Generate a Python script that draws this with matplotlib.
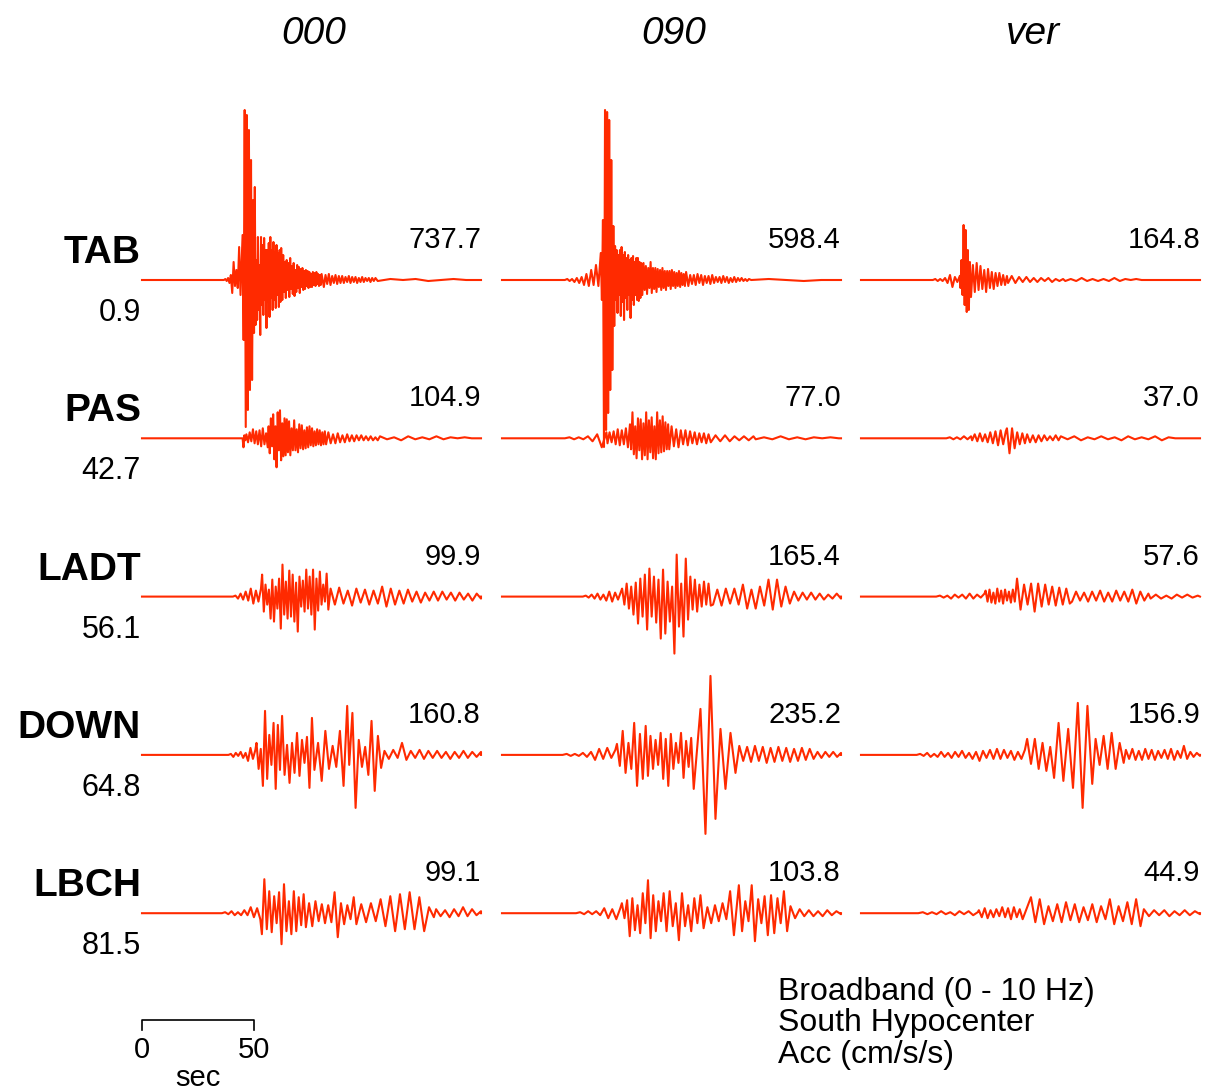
import matplotlib.pyplot as plt
import numpy as np

plt.rcParams['font.family'] = ['Liberation Sans', 'DejaVu Sans']

stations = ['TAB', 'PAS', 'LADT', 'DOWN', 'LBCH']
distances = ['0.9', '42.7', '56.1', '64.8', '81.5']
components = ['000', '090', 'ver']
peak_labels = [['737.7', '598.4', '164.8'],
               ['104.9', '77.0', '37.0'],
               ['99.9', '165.4', '57.6'],
               ['160.8', '235.2', '156.9'],
               ['99.1', '103.8', '44.9']]
notes = ['Broadband (0 - 10 Hz)', 'South Hypocenter', 'Acc (cm/s/s)']

# traces: (t_start, t_end, alternating extremes), time in s,
# amplitude in drawn units (positive up)
tab_000 = [(36.5, 44.5, [0, 1, -1, 2, -3, 5, -13, 18, -6, 10, -8, 33, -15, 25]),
           (44.8, 49.5, [45, -60, 170, -147, 165, -130, 150, -110, 120, -100, 80]),
           (49.9, 62, [-53, 93, -45, 20, -40, 43, -30, 15, -55, 43, -25, 35, -35, 42, -20, 30, -48, 30,
                       -22, 37, -37, 43, -18, 30, -30, 38, -20, 28, -28, 35, -15, 27, -27, 30, -22, 32]),
           (62.5, 80, [-20, 25, -12, 18, -18, 20, -10, 17, -17, 22, -9, 14, -14, 17, -16, 10, -12, 15, -8, 13,
                       -13, 11, -7, 12, -10, 9, -9, 10, -6, 9, -8, 8, -7, 6, -7, 8, -5, 7, -6, 8, -4, 6,
                       -6, 5, -5, 6]),
           (81, 104, [-7, 5, -4, 6, -5, 4, -3, 5, -4, 4, -3, 4, -3, 3, -2, 4, -3, 3, -2, 3, -3, 2, -2, 3,
                      -2, 2, -1, 2, -2, 2, -1, 2]),
           (105, 150, [-1, 1, 0, 1, -1, 0, 1, 0, 0])]
tab_090 = [(28, 44, [0, 1, -1, 1, -2, 2, -3, 3, -5, 6, -6, 10, -5, 15, -6, 27]),
           (44.5, 49.6, [-20, 60, -167, 170, -150, 168, -133, 160, -110, 120, -90, 54]),
           (50, 62, [-46, 34, -20, 30, -33, 25, -15, 30, -36, 33, -22, 25, -40, 28, -18, 22, -30, 25,
                     -15, 20, -38, 22, -20, 24, -25, 18, -15, 22, -20, 22, -21, 18, -18, 17]),
           (62.5, 82, [-15, 17, -10, 14, -14, 12, -8, 18, -13, 12, -9, 12, -12, 11, -7, 10, -10, 12, -8, 9,
                       -10, 9, -6, 9, -9, 10, -6, 8, -8, 7, -6, 9, -7, 7, -5, 6, -6, 8]),
           (83, 110, [-6, 5, -4, 5, -5, 6, -3, 5, -5, 4, -3, 4, -4, 5, -3, 3, -2, 3, -3, 4, -2, 3, -3, 2,
                      -2, 3, -2, 2, -1, 2, -1, 1, -1, 1]),
           (111, 150, [0, 1, 0, -1, 0, 0])]
tab_ver = [(32, 44, [0, 1, -1, 1, -1, 2, -3, 5, -7, 3, -2, 4]),
           (44.3, 48.5, [-8, 20, -15, 55, -25, 50, -32, 30, -30, 18]),
           (49, 65, [-17, 15, -12, 17, -10, 14, -9, 10, -12, 11, -8, 8, -9, 7, -6, 7, -5, 5, -5, 4]),
           (65.5, 90, [-3, 4, -3, 3, -2, 3, -2, 2, -2, 2, -1, 2, -2, 1, -1, 1]),
           (91, 125, [-1, 1, -1, 2, -1, 1, -1, 1, -1, 2, -1, 1, 0, 1, 0])]

pas_000 = [(44.8, 46, [0, -9, 3, -2]),
           (46.5, 56, [4, -4, 6, -3, 9, -5, 7, -6, 8, -8, 10, -6, 5, -9]),
           (56.4, 65, [12, -15, 20, -8, 24, -21, 12, -29, 26, -12, 28, -22, 15, -18, 20, -17, 19, -14]),
           (65.5, 82, [17, -17, 10, -12, 18, -12, 9, -14, 14, -10, 13, -11, 8, -10, 11, -9, 12, -7, 10, -8,
                       7, -7, 9, -6, 8, -7, 6, -6, 7, -6]),
           (83, 105, [6, -5, 4, -5, 5, -4, 3, -4, 4, -3, 3, -3, 3, -2, 3, -2, 2, -2, 2, -2, 1, -2]),
           (106, 150, [2, -1, 1, -2, 2, -1, 1, -1, 2, -1, 1, 0, 1, 0, 0])]
pas_090 = [(28, 46.5, [0, 1, -1, 1, -1, 2, -3, 4, -9, 6]),
           (47, 57, [-5, 6, -4, 7, -6, 9, -7, 8, -6, 10, -9, 14]),
           (57.5, 74, [-11, 26, -16, 12, -20, 20, -12, 19, -21, 15, -17, 26, -21, 18, -14, 21, -20, 12,
                       -21, 26, -15, 18, -14, 22, -13, 16, -11, 14]),
           (74.5, 92, [-11, 12, -8, 9, -9, 8, -6, 8, -7, 7, -5, 6, -6, 5, -4, 5, -5, 4]),
           (93, 112, [-4, 3, -3, 3, -3, 2, -2, 2, -2, 2]),
           (113, 150, [-1, 1, -1, 2, -1, 1, -1, 1, 0, 1, 0])]
pas_ver = [(38, 49, [0, 1, -1, 1, -1, 2, -1, 2]),
           (49.5, 64.5, [-2, 4, -3, 5, -3, 4, -4, 6, -5, 7, -7, 8, -6, 7]),
           (65, 73, [10, -15, 10, -10, 6, -6, 5, -5]),
           (74, 88, [4, -4, 3, -4, 3, -3, 3, -2, 2, -2, 3, -2]),
           (89, 140, [2, -1, 2, -2, 1, -1, 2, -1, 1, -2, 2, -1, 1, -1, 2, -2, 1, 0])]

ladt_000 = [(40.5, 53, [0, 1, -2, 3, -3, 5, -4, 8, -7, 6, -5, 8]),
            (53.5, 83, [22, -15, 12, -8, 7, -22, 17, -25, 10, -12, 18, -32, 32, -18, 15, -22, 26, -20, 22, -25,
                        14, -35, 20, -10, 16, -15, 27, -12, 20, -18, 27, -33, 18, -14, 25, -8, 12, -5, 23, -13]),
            (84, 151, [8, -8, 9, -7, 6, -9, 8, -6, 7, -8, 6, -7, 10, -10, 8, -8, 6, -7, 7, -5, 5, -6, 4, -4,
                       5, -4, 5, -3, 4, -4, 4, -3, 3, -4, 3, -2])]
ladt_090 = [(36, 53, [0, 1, -1, 2, -2, 3, -3, 2, -4, 5, -5, 4, -3, 5]),
            (53.5, 93, [8, -8, 13, -12, 10, -18, 14, -27, 18, -20, 22, -33, 28, -20, 20, -26, 17, -42, 27, -37,
                        15, -25, 10, -57, 42, -30, 13, -40, 38, -23, 20, -13, 17, -15, 12, -10, 15, -8, 13, -9]),
            (94, 151, [-8, 7, -9, 8, -7, 8, -8, 12, -12, 7, -12, 10, -9, 17, -13, 17, -10, 10, -7, 5, -4, 4,
                       -3, 4, -3, 3, -3, 2, -2, 3, -2])]
ladt_ver = [(33.5, 55, [0, 1, -1, 1, -2, 2, -1, 2, -2, 3, -2, 2, -1, 3]),
            (55.5, 68.5, [6, -5, 7, -6, 4, -7, 8, -5, 6, -7, 7, -4, 5, -6, 7, -5]),
            (69.5, 93, [18, -13, 12, -8, 13, -15, 13, -10, 12, -8, 10, -9, 9, -8, 8, -7]),
            (94, 128, [-5, 5, -4, 4, -5, 5, -4, 6, -5, 4, -5, 6, -4, 5, -5, 7, -7, 5, -4, 3]),
            (129, 150, [-2, 2, -2, 1, -2, 2, -1, 2, -1, 1])]

down_000 = [(38.5, 50.5, [0, 1, -2, 2, -1, 3, -3, 2, -6, 7, -4, 5]),
            (51, 62.4, [12, -14, 6, -31, 44, -24, 20, -10, 32, -34, 30, -15, 39]),
            (63.5, 75.7, [-20, 10, -28, 12, -18, 22, -21, 15, -8, 18, -33, 37]),
            (76.8, 91.4, [-15, 12, -26, 24, -14, 9, -12, 24, -31, 49]),
            (92.3, 106.5, [-10, 42, -53, 15, -12, 8, -20, 34, -36, 19, -13]),
            (108, 151, [4, -4, 5, -3, 12, -5, 4, -3, 5, -4, 4, -3, 4, -3, 3, -4, 3, -3, 4, -3, 3, -2, 3])]
down_090 = [(27, 50.5, [0, 1, -1, 1, -1, 2, -2, 3, -5, 6, -4, 7, -3, 5]),
            (51.2, 64, [11, -11, 24, -18, 12, -14, 32, -31, 21, -24, 29]),
            (65, 85.4, [-21, 19, -14, 15, -10, 22, -24, 16, -31, 21, -14, 12, -8, 22, -23, 14, -12, 17, -34]),
            (88.4, 104, [46, -79, 79, -64, 26, -34, 22, -18]),
            (105.7, 151, [9, -6, 8, -7, 9, -6, 8, -8, 7, -7, 8, -6, 7, -7, 6, -6, 7, -5, 6, -4, 3, -3, 3, -2,
                          3, -2, 2])]
down_ver = [(24.8, 73, [0, 1, -1, 2, -2, 1, -2, 3, -2, 2, -3, 3, -2, 4, -3, 2, -4, 3, -6, 4, -3, 5, -4, 6,
                        -4, 5, -3, 4, -5, 3, -4, 5]),
            (74, 86, [16, -9, 16, -14, 12, -16, 8, -23]),
            (88, 103, [32, -26, 26, -33, 52, -53, 49, -29]),
            (104.5, 117, [16, -10, 19, -14, 22, -14, 12, -8]),
            (118, 151, [5, -4, 6, -5, 4, -5, 6, -4, 5, -5, 4, -3, 5, -4, 6, -5, 4, -3, 9, -4, 3, -2, 2, -1])]

lbch_000 = [(35.6, 52.7, [0, 1, -1, 2, -2, 1, -2, 3, -2, 6, -4, 5, -6]),
            (53.4, 72, [-21, 34, -16, 22, -19, 17, -10, 21, -31, 29, -18, 12, -21, 22, -18, 16, -12, 19]),
            (73, 94.3, [-14, 10, -13, 12, -8, 9, -10, 8, -9, 21, -24, 10, -11, 8, -6, 16]),
            (95.5, 130, [-11, 9, -9, 10, -8, 14, -13, 17, -18, 19, -16, 21, -16, 16, -18, 6, -4]),
            (131, 151, [4, -3, 3, -4, 4, -3, 6, -3, 4, -2, 2])]
lbch_090 = [(33, 52.7, [0, 1, -1, 2, -1, 2, -2, 5, -5, 4, -6, 5]),
            (53.4, 72, [10, -5, 13, -23, 15, -17, 8, -20, 20, -10, 33, -25, 18, -18, 12, -8, 20]),
            (73.3, 88.4, [-18, 22, -13, 10, -27, 20, -13, 8, -18, 15, -10, 18]),
            (89.8, 103.3, [-15, 6, -10, 8, -8, 10, -6, 22, -22]),
            (105.5, 127, [28, -18, 12, -8, 28, -28, 14, -10, 17, -22, 18, -20, 15, -10, 22, -18]),
            (128.5, 151, [7, -5, 4, -3, 3, -3, 2, -3, 3, -2, 2, -1])]
lbch_ver = [(25.5, 52, [0, 1, -1, 1, -1, 2, -1, 1, -2, 2, -1, 2, -2, 1]),
            (52.5, 72, [3, -4, 5, -5, 3, -4, 4, -3, 6, -4, 5, -6, 6, -4, 4, -6]),
            (75.7, 124.5, [16, -9, 14, -11, 7, -8, 9, -9, 11, -7, 9, -9, 6, -7, 9, -9, 7, -6, 14, -11, 7, -8,
                           11, -11, 14, -13]),
            (126, 151, [4, -3, 3, -2, 3, -3, 2, -2, 3, -2, 2, -1])]

traces = [[tab_000, tab_090, tab_ver],
          [pas_000, pas_090, pas_ver],
          [ladt_000, ladt_090, ladt_ver],
          [down_000, down_090, down_ver],
          [lbch_000, lbch_090, lbch_ver]]

T_END = 151.0


def build(segs):
    t = [0.0]
    a = [0.0]
    for t0, t1, vals in segs:
        t.extend(np.linspace(t0, t1, len(vals)))
        a.extend(vals)
    t.append(T_END)
    a.append(0.0)
    return np.array(t), np.array(a, dtype=float)


W, H = 1209, 1090
fig = plt.figure(figsize=(W / 100, H / 100), dpi=100)

col_left = [142, 502, 861]
col_width = 339
base0, row_step = 280, 158.3
red = '#ff2a00'

axes = []
for j in range(3):
    ax = fig.add_axes([col_left[j] / W, 0, col_width / W, 1])
    ax.set_xlim(0, T_END)
    ax.set_ylim(H, 0)
    ax.axis('off')
    axes.append(ax)
    for i in range(len(stations)):
        t, a = build(traces[i][j])
        base = base0 + i * row_step
        ax.plot(t, base - a, color=red, lw=1.5, clip_on=False)
        ax.text(T_END, base - 32, peak_labels[i][j], ha='right', va='baseline', fontsize=21)
    ax.text(T_END / 2 + 1, 44, components[j], ha='center', va='baseline', fontsize=28, style='italic')

# station names and distances
for i in range(len(stations)):
    base = base0 + i * row_step
    axes[0].text(-0.5, base - 17, stations[i], ha='right', va='baseline', fontsize=28,
                 fontweight='bold')
    axes[0].text(-0.5, base + 41, distances[i], ha='right', va='baseline', fontsize=22)

# time scale bar
ax = axes[0]
ax.plot([0, 0, 50, 50], [1030, 1020, 1020, 1030], color='black', lw=1.2, clip_on=False)
ax.text(0, 1058, '0', ha='center', va='baseline', fontsize=21)
ax.text(50, 1058, '50', ha='center', va='baseline', fontsize=21)
ax.text(25, 1086, 'sec', ha='center', va='baseline', fontsize=21)

for k, line in enumerate(notes):
    fig.text(778 / W, 1 - (1000 + k * 31.5) / H, line, ha='left', va='baseline', fontsize=23)

fig.savefig('out.png', dpi=100)
